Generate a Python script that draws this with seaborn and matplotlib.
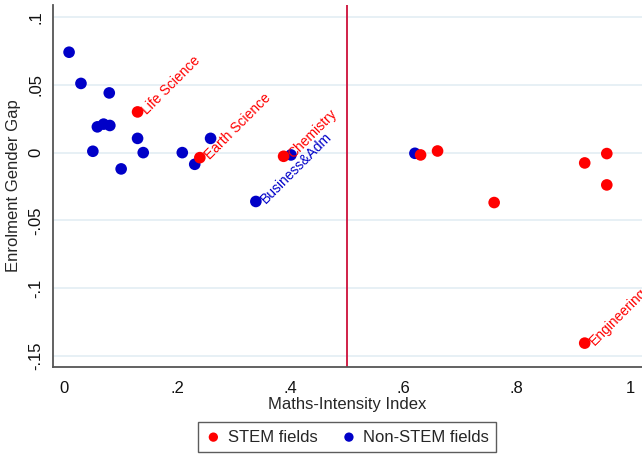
import matplotlib
matplotlib.use('Agg')
import matplotlib.pyplot as plt
import seaborn as sns
import pandas as pd

# maths intensity index and enrolment gender gap
stem_x = [0.130, 0.240, 0.388, 0.630, 0.660, 0.760, 0.920, 0.959, 0.959, 0.920]
stem_y = [0.030, -0.0037, -0.0027, -0.0017, 0.0012, -0.0368, -0.0076, -0.0007, -0.0238, -0.1404]
stem_names = ['Life Science', 'Earth Science', 'Chemistry', '', '', '', '', '', '', 'Engineering']

non_x = [0.009, 0.030, 0.080, 0.059, 0.070, 0.081, 0.051, 0.130, 0.140, 0.101,
         0.209, 0.231, 0.259, 0.339, 0.401, 0.620]
non_y = [0.074, 0.051, 0.044, 0.019, 0.021, 0.020, 0.001, 0.0105, 0.000, -0.012,
         0.000, -0.0086, 0.0105, -0.036, -0.0017, -0.0005]
non_names = [''] * 13 + ['Business&Adm', '', '']

xticks = [0, 0.2, 0.4, 0.6, 0.8, 1.0]
xticklabels = ['0', '.2', '.4', '.6', '.8', '1']
yticks = [-0.15, -0.1, -0.05, 0, 0.05, 0.1]
yticklabels = ['-.15', '-.1', '-.05', '0', '.05', '.1']

df = pd.DataFrame({
    'mii': stem_x + non_x,
    'gap': stem_y + non_y,
    'name': stem_names + non_names,
    'group': ['STEM fields'] * len(stem_x) + ['Non-STEM fields'] * len(non_x),
})

sns.set_style('white')
plt.rcParams['font.family'] = ['Liberation Sans', 'DejaVu Sans']

RED = '#ff0000'
BLUE = '#0000c8'
pal = {'STEM fields': RED, 'Non-STEM fields': BLUE}

fig = plt.figure(figsize=(6.42, 4.54), dpi=100)
ax = fig.add_axes([53 / 642, 1 - 367 / 454, 1 - 53 / 642, (367 - 5) / 454])

for t in yticks:
    ax.axhline(t, color='#e3edf3', lw=1.2, zorder=0)
ax.axvline(0.5, color='#d02048', lw=1.4, zorder=1)

# blue first so red sits on top where they overlap
sns.scatterplot(data=df[df.group == 'Non-STEM fields'], x='mii', y='gap', color=BLUE,
                s=70, edgecolor='none', ax=ax, zorder=3, label='Non-STEM fields')
sns.scatterplot(data=df[df.group == 'STEM fields'], x='mii', y='gap', color=RED,
                s=70, edgecolor='none', ax=ax, zorder=3, label='STEM fields')

for _, r in df[df.name != ''].iterrows():
    ax.annotate(r['name'], (r['mii'], r['gap']), xytext=(5, 0), textcoords='offset points',
                rotation=45, rotation_mode='anchor', ha='left', va='center',
                color=pal[r['group']], fontsize=10, annotation_clip=False)

ax.set_xlim(-0.0194, 1.0212)
ax.set_ylim(-0.158, 0.1088)
ax.set_xticks(xticks)
ax.set_xticklabels(xticklabels)
ax.set_yticks(yticks)
ax.set_yticklabels(yticklabels, rotation=90, va='center')
ax.tick_params(axis='both', direction='out', length=5, width=1, color='#555555',
               labelsize=12, labelcolor='#111111', pad=2)
ax.tick_params(axis='x', pad=5)
for s in ['top', 'right']:
    ax.spines[s].set_visible(False)
for s in ['left', 'bottom']:
    ax.spines[s].set_color('#555555')
    ax.spines[s].set_linewidth(1.3)

ax.set_xlabel('Maths-Intensity Index', fontsize=12, labelpad=1)
ax.set_ylabel('Enrolment Gender Gap', fontsize=12, labelpad=5)

ax.get_legend().remove()
h, l = ax.get_legend_handles_labels()
order = [l.index('STEM fields'), l.index('Non-STEM fields')]
leg = fig.legend([h[i] for i in order], [l[i] for i in order], loc='center',
                 bbox_to_anchor=(347 / 642, 1 - 437 / 454), ncol=2, frameon=True,
                 fancybox=False, fontsize=12, handletextpad=0.35, columnspacing=1.4,
                 markerscale=0.8, borderpad=0.45, handlelength=1.0)
leg.get_frame().set_edgecolor('#333333')
leg.get_frame().set_linewidth(1.0)

fig.savefig('out.png', dpi=100)
